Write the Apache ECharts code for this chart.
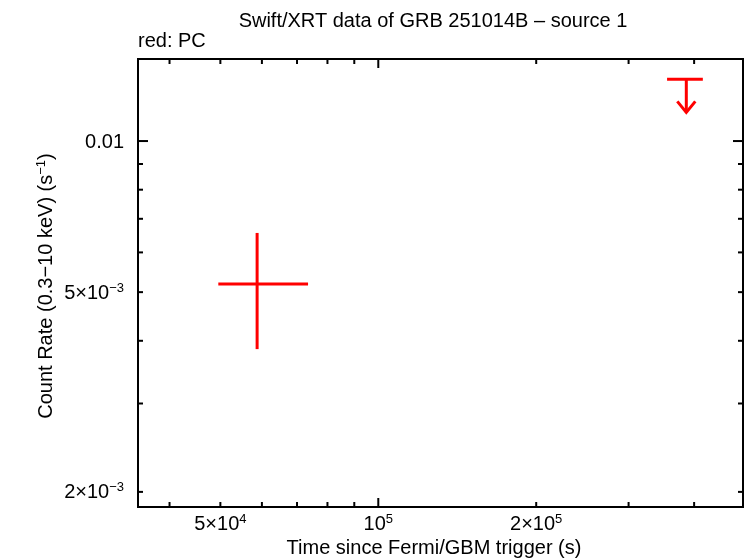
<!DOCTYPE html>
<html><head><meta charset="utf-8">
<script src="https://cdn.jsdelivr.net/npm/echarts@6/dist/echarts.min.js"></script>
<style>html,body{margin:0;padding:0;background:#fff}#c{width:746px;height:558px}</style>
</head><body><div id="c"></div>
<script>
// ---- data ----
const titleText = 'Swift/XRT data of GRB 251014B \u2013 source 1';
const legendText = 'red: PC';
const xAxisName = 'Time since Fermi/GBM trigger (s)';
// detection: [time, timeLow, timeHigh, rate, rateLow, rateHigh]
const pcPoints = [[58750, 49550, 73470, 5.19e-3, 3.85e-3, 6.56e-3]];
// upper limit: [time, timeLow, timeHigh, rateLimit]
const pcUpperLimits = [[386500, 355200, 415600, 0.01327]];
const xRange = [34830, 495700];
const yRange = [1.866e-3, 0.01457];
const xMajorTicks = [1e5];
const xMinorTicks = [4e4, 5e4, 6e4, 7e4, 8e4, 9e4, 2e5, 3e5, 4e5];
const yMajorTicks = [0.01];
const yMinorTicks = [2e-3, 3e-3, 4e-3, 5e-3, 6e-3, 7e-3, 8e-3, 9e-3];
const xTickLabelValues = [5e4, 1e5, 2e5];
const xTickLabelTexts = ['{m|5\u00d710}{s|4}', '{m|10}{s|5}', '{m|2\u00d710}{s|5}'];
const yTickLabelValues = [0.01, 5e-3, 2e-3];
const yTickLabelTexts = ['{m|0.01}', '{m|5\u00d710}{s|\u22123}', '{m|2\u00d710}{s|\u22123}'];

// ---- chart ----
const FONT = '"Liberation Sans", Arial, Helvetica, sans-serif';
const RED = '#ff0000';
const rich = {
  m: {fontSize: 20, fontFamily: FONT, color: '#000'},
  s: {fontSize: 13, fontFamily: FONT, color: '#000', padding: [0, 0, 10, 0]}
};
const chart = echarts.init(document.getElementById('c'), null, {renderer: 'canvas'});

function xTickSeries(vals, len) {
  return {
    type: 'custom', silent: true, clip: false, z: 5,
    data: vals.map(v => [v, yRange[0]]),
    encode: {x: 0, y: 1},
    renderItem: function (params, api) {
      const p = api.coord([api.value(0), yRange[0]]);
      const cs = params.coordSys;
      const st = {stroke: '#000', lineWidth: 2};
      return {type: 'group', children: [
        {type: 'line', shape: {x1: p[0], y1: cs.y + cs.height, x2: p[0], y2: cs.y + cs.height - len}, style: st},
        {type: 'line', shape: {x1: p[0], y1: cs.y, x2: p[0], y2: cs.y + len}, style: st}
      ]};
    }
  };
}
function yTickSeries(vals, len) {
  return {
    type: 'custom', silent: true, clip: false, z: 5,
    data: vals.map(v => [xRange[0], v]),
    encode: {x: 0, y: 1},
    renderItem: function (params, api) {
      const p = api.coord([xRange[0], api.value(1)]);
      const cs = params.coordSys;
      const st = {stroke: '#000', lineWidth: 2};
      return {type: 'group', children: [
        {type: 'line', shape: {x1: cs.x, y1: p[1], x2: cs.x + len, y2: p[1]}, style: st},
        {type: 'line', shape: {x1: cs.x + cs.width, y1: p[1], x2: cs.x + cs.width - len, y2: p[1]}, style: st}
      ]};
    }
  };
}
const xLabelSeries = {
  type: 'custom', silent: true, clip: false, z: 5,
  data: xTickLabelValues.map((v, i) => [v, yRange[0], i]),
  encode: {x: 0, y: 1},
  renderItem: function (params, api) {
    const p = api.coord([api.value(0), yRange[0]]);
    const i = api.value(2);
    return {type: 'text', x: p[0], y: p[1] + 17,
      style: {text: xTickLabelTexts[i], rich: rich, align: 'center', verticalAlign: 'middle'}};
  }
};
const yLabelSeries = {
  type: 'custom', silent: true, clip: false, z: 5,
  data: yTickLabelValues.map((v, i) => [xRange[0], v, i]),
  encode: {x: 0, y: 1},
  renderItem: function (params, api) {
    const p = api.coord([xRange[0], api.value(1)]);
    const i = api.value(2);
    return {type: 'text', x: p[0] - 14, y: p[1] + 1,
      style: {text: yTickLabelTexts[i], rich: rich, align: 'right', verticalAlign: 'middle'}};
  }
};
const pointSeries = {
  type: 'custom', clip: false, z: 10,
  data: pcPoints,
  encode: {x: 0, y: 3},
  renderItem: function (params, api) {
    const a = api.coord([api.value(1), api.value(3)]);
    const b = api.coord([api.value(2), api.value(3)]);
    const c = api.coord([api.value(0), api.value(4)]);
    const d = api.coord([api.value(0), api.value(5)]);
    const st = {stroke: RED, lineWidth: 3};
    return {type: 'group', children: [
      {type: 'line', shape: {x1: a[0], y1: a[1], x2: b[0], y2: b[1]}, style: st},
      {type: 'line', shape: {x1: c[0], y1: c[1], x2: d[0], y2: d[1]}, style: st}
    ]};
  }
};
const ulSeries = {
  type: 'custom', clip: false, z: 10,
  data: pcUpperLimits,
  encode: {x: 0, y: 3},
  renderItem: function (params, api) {
    const a = api.coord([api.value(1), api.value(3)]);
    const b = api.coord([api.value(2), api.value(3)]);
    const c = api.coord([api.value(0), api.value(3)]);
    const tipY = c[1] + 33;
    const st = {stroke: RED, lineWidth: 3};
    return {type: 'group', children: [
      {type: 'line', shape: {x1: a[0], y1: a[1], x2: b[0], y2: b[1]}, style: st},
      {type: 'line', shape: {x1: c[0], y1: c[1], x2: c[0], y2: tipY}, style: st},
      {type: 'polyline', shape: {points: [[c[0] - 9, tipY - 11], [c[0], tipY], [c[0] + 9, tipY - 11]]}, style: {stroke: RED, lineWidth: 3, fill: null}}
    ]};
  }
};

chart.setOption({
  animation: false,
  backgroundColor: '#fff',
  grid: {left: 138, top: 59, width: 605, height: 448, show: true, borderColor: '#000', borderWidth: 2, backgroundColor: 'transparent'},
  xAxis: {type: 'log', logBase: 10, min: xRange[0], max: xRange[1],
    axisLine: {show: false}, axisTick: {show: false}, axisLabel: {show: false}, splitLine: {show: false}, minorTick: {show: false}},
  yAxis: {type: 'log', logBase: 10, min: yRange[0], max: yRange[1],
    axisLine: {show: false}, axisTick: {show: false}, axisLabel: {show: false}, splitLine: {show: false}, minorTick: {show: false}},
  graphic: [
    {type: 'text', x: 433, y: 21, style: {text: titleText, font: '20px ' + FONT, fill: '#000', align: 'center', verticalAlign: 'middle'}},
    {type: 'text', x: 138, y: 41, style: {text: legendText, font: '20px ' + FONT, fill: '#000', align: 'left', verticalAlign: 'middle'}},
    {type: 'text', x: 434, y: 548, style: {text: xAxisName, font: '20px ' + FONT, fill: '#000', align: 'center', verticalAlign: 'middle'}},
    {type: 'text', x: 46, y: 286, rotation: Math.PI / 2,
      style: {text: '{m|Count Rate (0.3\u221210 keV) (s}{s|\u22121}{m|)}', align: 'center', verticalAlign: 'middle',
        rich: {m: {fontSize: 20, fontFamily: FONT, color: '#000'}, s: {fontSize: 13, fontFamily: FONT, color: '#000', padding: [0, 0, 10, 0]}}}}
  ],
  series: [
    xTickSeries(xMajorTicks, 9), xTickSeries(xMinorTicks, 5),
    yTickSeries(yMajorTicks, 10), yTickSeries(yMinorTicks, 5),
    xLabelSeries, yLabelSeries, pointSeries, ulSeries
  ]
});
</script></body></html>
